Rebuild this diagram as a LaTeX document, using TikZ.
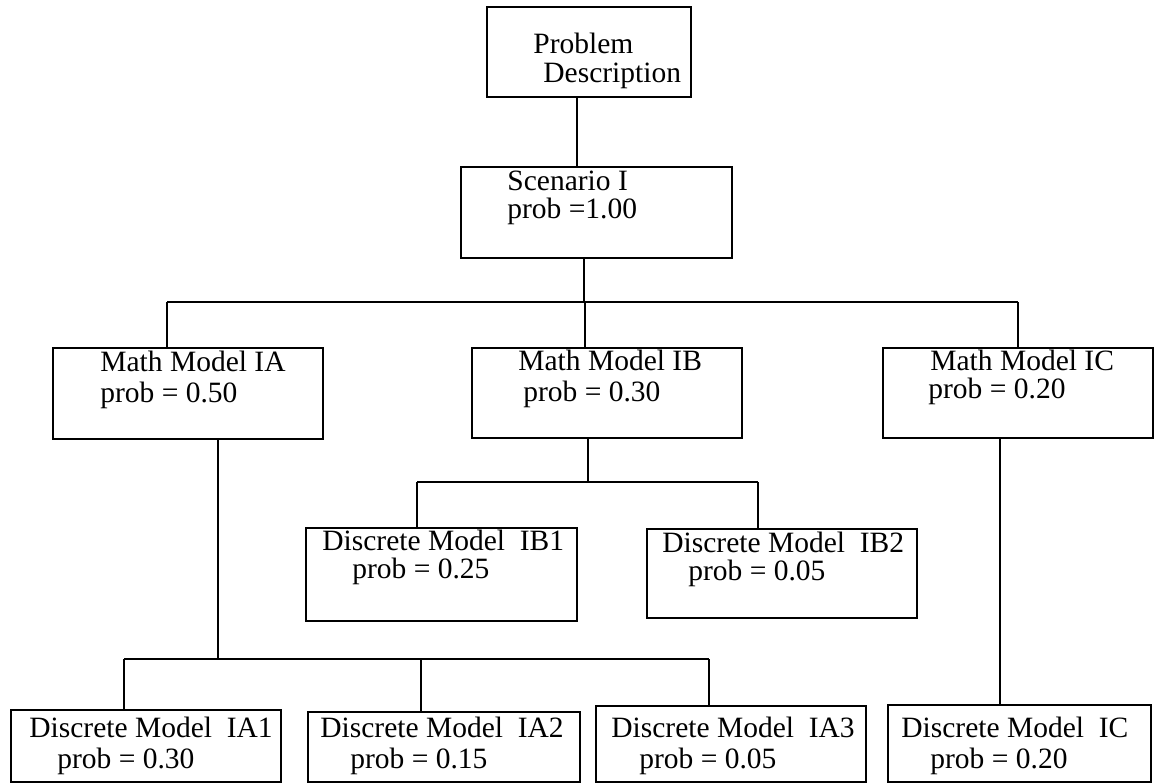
\documentclass[tikz,border=0pt]{standalone}
\usepackage{fontspec}
\setmainfont{Liberation Serif}
\usetikzlibrary{fit}
\begin{document}
\begin{tikzpicture}[x=0.5pt,y=-0.5pt,
  box/.style={draw, line width=0.7pt, inner sep=0pt},
  wire/.style={line width=0.55pt},
  bus/.style={line width=0.7pt},
  txt/.style={anchor=base west, inner sep=0pt, font=\fontsize{14.75pt}{15.5pt}\selectfont}]
\useasboundingbox (0,0) rectangle (1155,782);

% boxes
\node[box, fit={(487,7) (691,97)}]     (pd)  {};
\node[box, fit={(461,167) (732,258)}]  (sc)  {};
\node[box, fit={(53,348) (323,439)}]   (ia)  {};
\node[box, fit={(472,348) (742,438)}]  (ib)  {};
\node[box, fit={(883,348) (1153,438)}] (ic)  {};
\node[box, fit={(306,528) (577,621)}]  (ib1) {};
\node[box, fit={(647,529) (917,618)}]  (ib2) {};
\node[box, fit={(11,710) (281,782)}]   (ia1) {};
\node[box, fit={(308,712) (580,782)}]  (ia2) {};
\node[box, fit={(596,706) (866,782)}]  (ia3) {};
\node[box, fit={(888,705) (1151,782)}] (icd) {};

% labels
\node[txt] (pdA)  at (533,53)  {Problem};
\node[txt] (pdB)  at (543,82)  {Description};
\node[txt] (scA)  at (507,190) {Scenario I};
\node[txt] (scB)  at (507,218) {prob =1.00};
\node[txt] (iaA)  at (100,371) {Math Model IA};
\node[txt] (iaB)  at (100,402) {prob = 0.50};
\node[txt] (ibA)  at (518,370) {Math Model IB};
\node[txt] (ibB)  at (523,401) {prob = 0.30};
\node[txt] (icA)  at (930,370) {Math Model IC};
\node[txt] (icB)  at (928,398) {prob = 0.20};
\node[txt] (ib1A) at (322,550) {Discrete Model\ \ IB1};
\node[txt] (ib1B) at (352,578) {prob = 0.25};
\node[txt] (ib2A) at (662,552) {Discrete Model\ \ IB2};
\node[txt] (ib2B) at (688,580) {prob = 0.05};
\node[txt] (ia1A) at (29,737)  {Discrete Model\ \ IA1};
\node[txt] (ia1B) at (57,768)  {prob = 0.30};
\node[txt] (ia2A) at (320,737) {Discrete Model\ \ IA2};
\node[txt] (ia2B) at (350,768) {prob = 0.15};
\node[txt] (ia3A) at (611,737) {Discrete Model\ \ IA3};
\node[txt] (ia3B) at (639,768) {prob = 0.05};
\node[txt] (icdA) at (901,737) {Discrete Model\ \ IC};
\node[txt] (icdB) at (930,768) {prob = 0.20};

% junction columns and bus rows
\coordinate (c0) at (577,0);
\coordinate (c1) at (584,0);
\coordinate (b1) at (0,302);
\coordinate (cA) at (167,0);
\coordinate (cB) at (585,0);
\coordinate (cC) at (1018,0);
\coordinate (c2) at (588,0);
\coordinate (b2) at (0,482);
\coordinate (cB1) at (417,0);
\coordinate (cB2) at (758,0);
\coordinate (c3) at (218,0);
\coordinate (b3) at (0,659);
\coordinate (cA1) at (124,0);
\coordinate (cA2) at (421,0);
\coordinate (cA3) at (709,0);
\coordinate (c4) at (1000,0);

% connectors
\draw[wire] (c0 |- pd.south) -- (c0 |- sc.north);
\draw[wire] (c1 |- sc.south) -- (c1 |- b1);
\draw[bus] (cA |- b1) -- (cC |- b1);
\draw[wire] (cA |- b1) -- (cA |- ia.north);
\draw[wire] (cB |- b1) -- (cB |- ib.north);
\draw[wire] (cC |- b1) -- (cC |- ic.north);

\draw[wire] (c2 |- ib.south) -- (c2 |- b2);
\draw[bus] (cB1 |- b2) -- (cB2 |- b2);
\draw[wire] (cB1 |- b2) -- (cB1 |- ib1.north);
\draw[wire] (cB2 |- b2) -- (cB2 |- ib2.north);

\draw[wire] (c3 |- ia.south) -- (c3 |- b3);
\draw[bus] (cA1 |- b3) -- (cA3 |- b3);
\draw[wire] (cA1 |- b3) -- (cA1 |- ia1.north);
\draw[wire] (cA2 |- b3) -- (cA2 |- ia2.north);
\draw[wire] (cA3 |- b3) -- (cA3 |- ia3.north);

\draw[wire] (c4 |- ic.south) -- (c4 |- icd.north);
\end{tikzpicture}
\end{document}
